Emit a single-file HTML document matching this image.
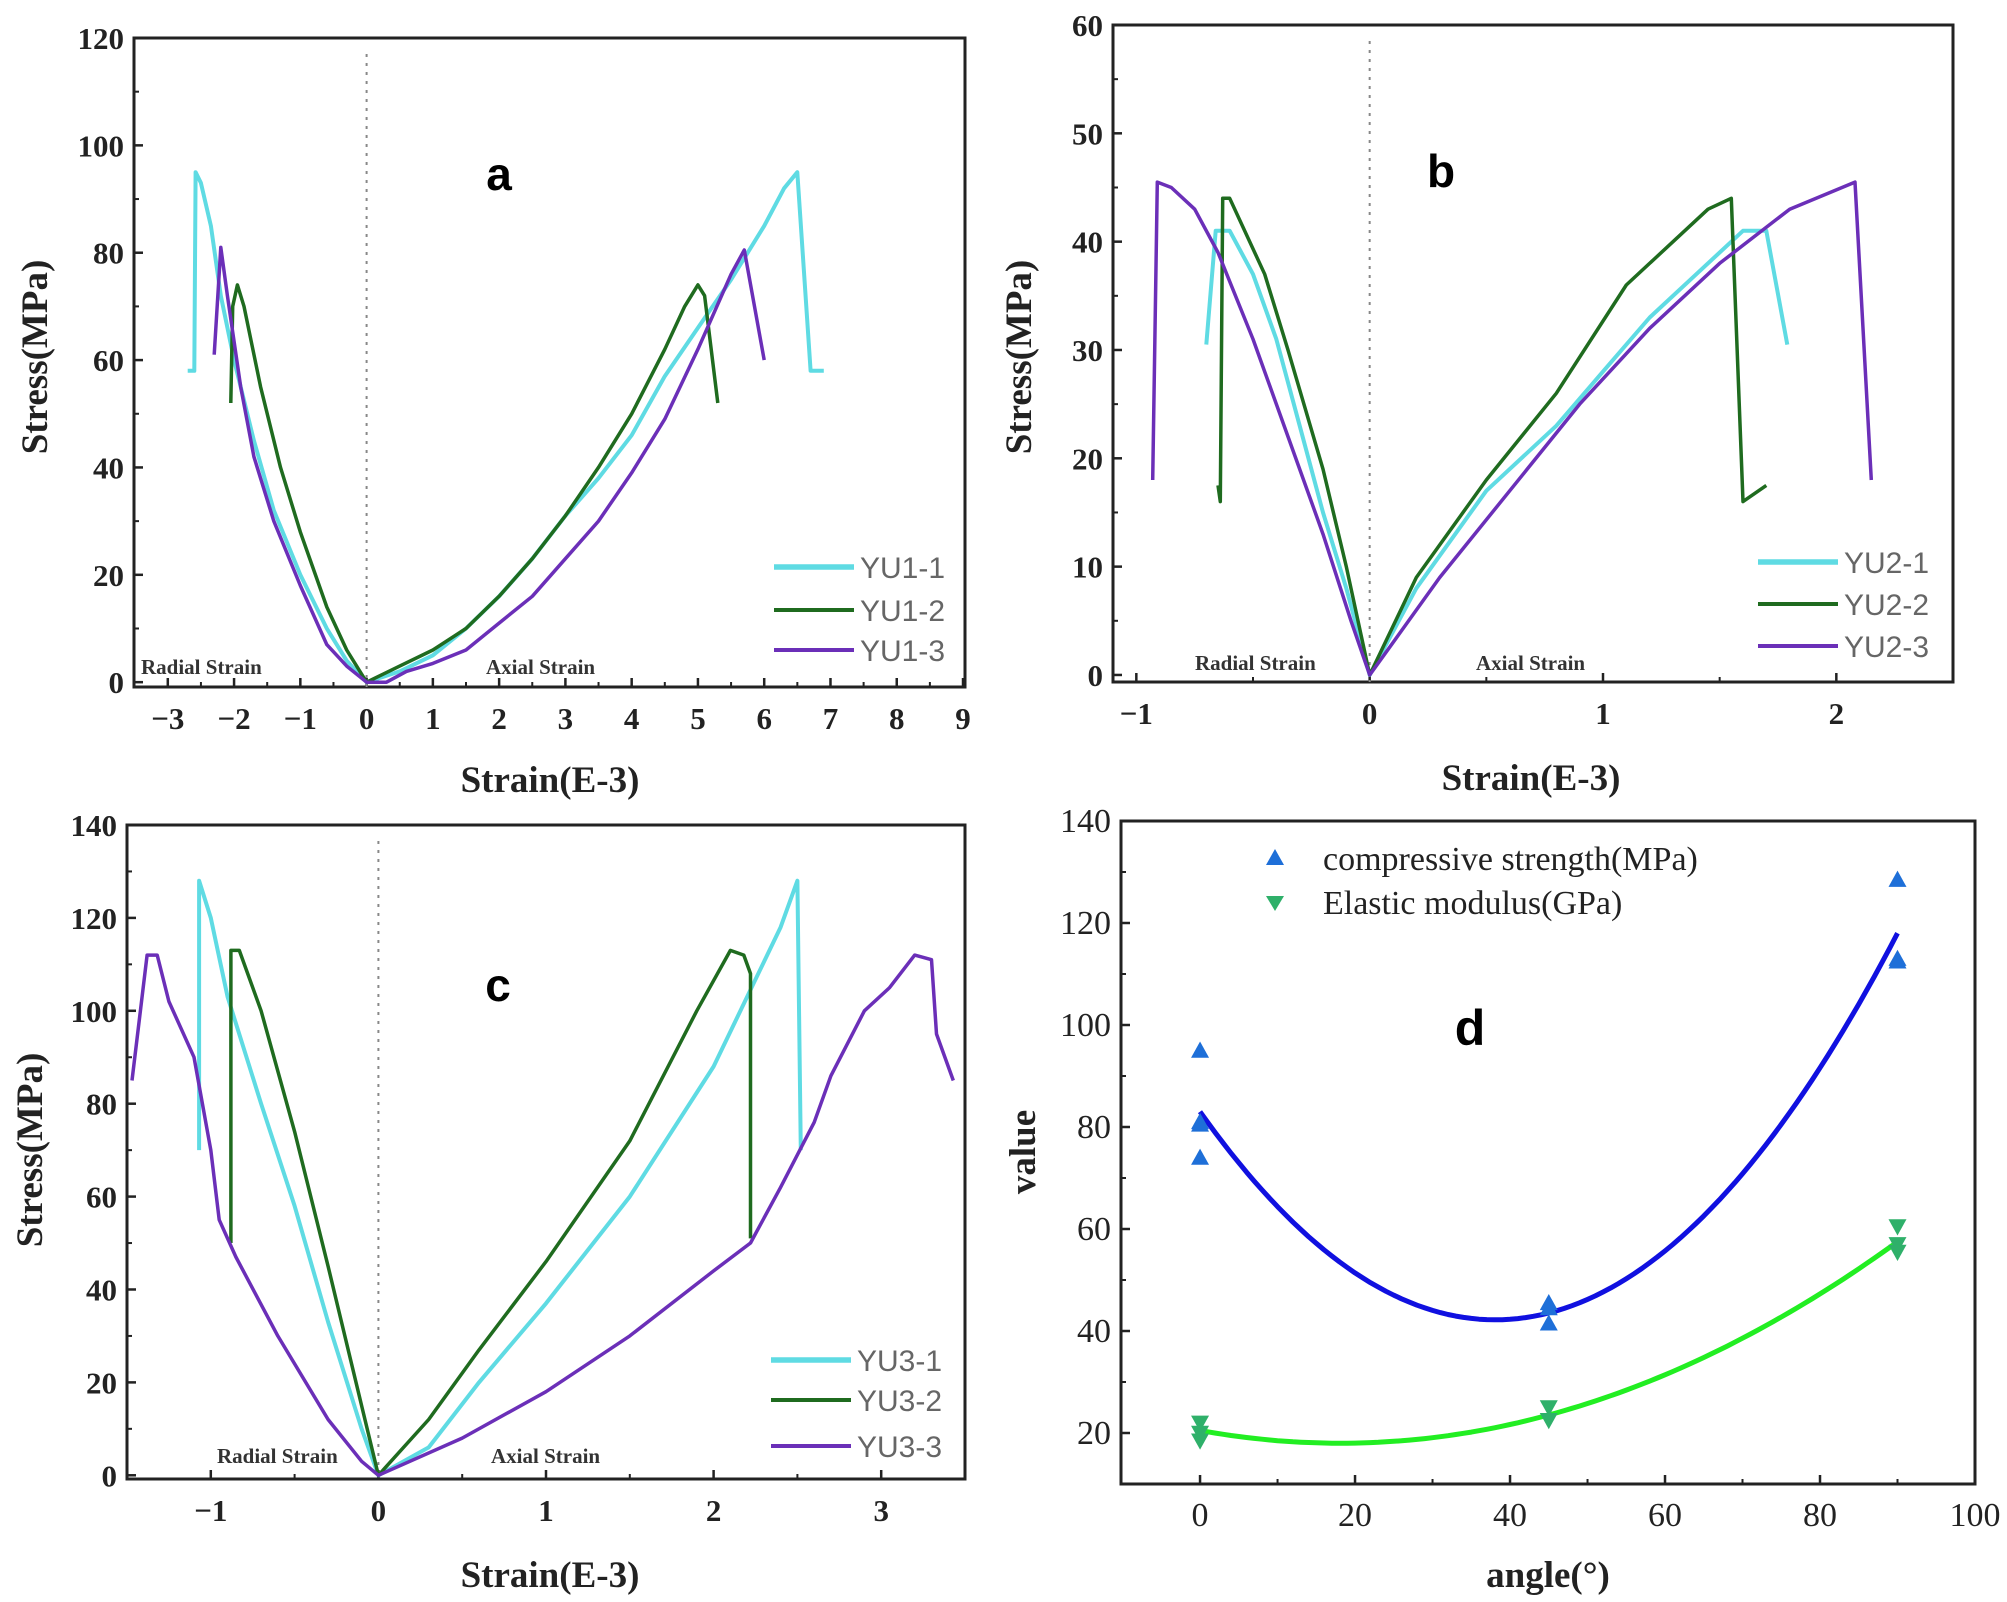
<!DOCTYPE html>
<html><head><meta charset="utf-8"><style>
html,body{margin:0;padding:0;background:#fff}
svg{display:block}
.tk{font-family:"Liberation Serif",serif;font-weight:bold;font-size:31px;fill:#222}
.tkd{font-family:"Liberation Serif",serif;font-size:34px;fill:#222}
.al{font-family:"Liberation Serif",serif;font-weight:bold;font-size:37px;fill:#222}
.lg{font-family:"Liberation Sans",sans-serif;font-size:30px;fill:#666}
.lt{font-family:"Liberation Sans",sans-serif;font-weight:bold;font-size:46px;fill:#000}
.rs{font-family:"Liberation Serif",serif;font-weight:bold;font-size:21px;fill:#333}
</style></head><body>
<svg id="s" width="2007" height="1602" viewBox="0 0 2007 1602" xmlns="http://www.w3.org/2000/svg"></svg>
<script>
const S=document.getElementById('s');let H='';
const C1='#5fdbe3',C2='#1f6b1f',C3='#6b2fb8';
function panel(p){
 const X=v=>p.x0+(v-p.xr[0])/(p.xr[1]-p.xr[0])*(p.x1-p.x0);
 const Y=v=>p.y1-(v-p.yr[0])/(p.yr[1]-p.yr[0])*(p.y1-p.y0);
 p.X=X;p.Y=Y;
 H+=`<rect x="${p.x0}" y="${p.y0}" width="${p.x1-p.x0}" height="${p.y1-p.y0}" fill="none" stroke="#222" stroke-width="3"/>`;
 for(const t of p.xt){H+=`<line x1="${X(t)}" x2="${X(t)}" y1="${p.y1}" y2="${p.y1-9}" stroke="#222" stroke-width="2.5"/>`;
  H+=`<text class="${p.tc}" x="${X(t)}" y="${p.y1+42}" text-anchor="middle">${t<0?'\u2212'+(-t):t}</text>`;}
 for(const t of (p.xm||[])){H+=`<line x1="${X(t)}" x2="${X(t)}" y1="${p.y1}" y2="${p.y1-5}" stroke="#222" stroke-width="2"/>`;}
 for(const t of p.yt){H+=`<line x1="${p.x0}" x2="${p.x0+9}" y1="${Y(t)}" y2="${Y(t)}" stroke="#222" stroke-width="2.5"/>`;
  H+=`<text class="${p.tc}" x="${p.x0-10}" y="${Y(t)+11}" text-anchor="end">${t}</text>`;}
 for(const t of (p.ym||[])){H+=`<line x1="${p.x0}" x2="${p.x0+5}" y1="${Y(t)}" y2="${Y(t)}" stroke="#222" stroke-width="2"/>`;}
 return p;
}
function line(p,pts,c,w){H+=`<polyline fill="none" stroke="${c}" stroke-width="${w||3.5}" stroke-linejoin="round" points="${pts.map(q=>p.X(q[0]).toFixed(1)+','+p.Y(q[1]).toFixed(1)).join(' ')}"/>`;}
function txt(x,y,cls,t,a,extra){H+=`<text class="${cls}" x="${x}" y="${y}" ${a?'text-anchor="'+a+'"':''} ${extra||''}>${t}</text>`;}
function legend(x,ys,names){const cs=[C1,C2,C3];for(let i=0;i<3;i++){H+=`<line x1="${x}" x2="${x+80}" y1="${ys[i]}" y2="${ys[i]}" stroke="${cs[i]}" stroke-width="${i==0?5.5:4}"/>`;txt(x+86,ys[i]+11,'lg',names[i]);}}
function zero(p){H+=`<line x1="${p.X(0)}" x2="${p.X(0)}" y1="${p.y0+16}" y2="${p.y1}" stroke="#888" stroke-width="2" stroke-dasharray="3,6"/>`;}
let a=panel({x0:134,x1:965,y0:38,y1:687,xr:[-3.51,9.03],yr:[-0.9,120],xt:[-3,-2,-1,0,1,2,3,4,5,6,7,8,9],xm:[-2.5,-1.5,-0.5,0.5,1.5,2.5,3.5,4.5,5.5,6.5,7.5,8.5],yt:[0,20,40,60,80,100,120],ym:[10,30,50,70,90,110],tc:'tk'});
zero(a);
line(a,[[-2.7,58],[-2.6,58],[-2.58,95],[-2.5,93],[-2.35,85],[-2.2,72],[-2,60],[-1.7,45],[-1.4,32],[-1,20],[-0.6,10],[-0.3,4],[0,0],[0.5,2],[1,5],[1.5,10],[2,16],[2.5,23],[3,31],[3.5,38],[4,46],[4.5,57],[5,66],[5.5,75],[6,85],[6.3,92],[6.5,95],[6.7,58],[6.9,58]],C1,4);
line(a,[[-2.05,52],[-2.02,70],[-1.95,74],[-1.85,70],[-1.6,55],[-1.3,40],[-1,28],[-0.6,14],[-0.3,6],[0,0],[0.5,3],[1,6],[1.5,10],[2,16],[2.5,23],[3,31],[3.5,40],[4,50],[4.5,62],[4.8,70],[5,74],[5.1,72],[5.3,52]],C2);
line(a,[[-2.3,61],[-2.2,81],[-2.1,72],[-1.9,55],[-1.7,42],[-1.4,30],[-1,18],[-0.6,7],[-0.3,3],[0,0],[0.3,0],[0.6,2],[1,3.5],[1.5,6],[2,11],[2.5,16],[3,23],[3.5,30],[4,39],[4.5,49],[5,62],[5.5,76],[5.7,80.5],[6,60]],C3);
legend(774,[567,610,650],['YU1-1','YU1-2','YU1-3']);
txt(141,674,'rs','Radial Strain');txt(486,674,'rs','Axial Strain');
txt(499,190,'lt','a','middle');
txt(550,792,'al','Strain(E-3)','middle');
txt(47,357,'al','Stress(MPa)','middle','transform="rotate(-90 47 357)"');
let b=panel({x0:1113,x1:1953,y0:25,y1:682,xr:[-1.1,2.5],yr:[-0.65,60],xt:[-1,0,1,2],xm:[-0.5,0.5,1.5],yt:[0,10,20,30,40,50,60],ym:[5,15,25,35,45,55],tc:'tk'});
zero(b);
line(b,[[-0.7,30.5],[-0.66,41],[-0.6,41],[-0.5,37],[-0.4,31],[-0.3,23],[-0.2,15],[-0.1,8],[0,0],[0.2,8],[0.5,17],[0.8,23],[1,28],[1.2,33],[1.4,37],[1.6,41],[1.7,41],[1.79,30.5]],C1,4);
line(b,[[-0.65,17.5],[-0.64,16],[-0.63,44],[-0.6,44],[-0.45,37],[-0.35,30],[-0.2,19],[-0.1,10],[0,0],[0.2,9],[0.5,18],[0.8,26],[1.1,36],[1.3,40],[1.45,43],[1.55,44],[1.6,16],[1.7,17.5]],C2);
line(b,[[-0.93,18],[-0.91,45.5],[-0.85,45],[-0.75,43],[-0.65,39],[-0.5,31],[-0.35,22],[-0.2,13],[-0.08,5],[0,0],[0.3,9],[0.6,17],[0.9,25],[1.2,32],[1.5,38],[1.8,43],[2.08,45.5],[2.15,18]],C3);
legend(1758,[562,604,646],['YU2-1','YU2-2','YU2-3']);
txt(1195,670,'rs','Radial Strain');txt(1476,670,'rs','Axial Strain');
txt(1441,187,'lt','b','middle');
txt(1531,790,'al','Strain(E-3)','middle');
txt(1031,357,'al','Stress(MPa)','middle','transform="rotate(-90 1031 357)"');
let c=panel({x0:127,x1:965,y0:825,y1:1479,xr:[-1.5,3.5],yr:[-0.8,140],xt:[-1,0,1,2,3],xm:[-0.5,0.5,1.5,2.5],yt:[0,20,40,60,80,100,120,140],ym:[10,30,50,70,90,110,130],tc:'tk'});
zero(c);
line(c,[[-1.07,70],[-1.07,128],[-1.0,120],[-0.9,103],[-0.7,80],[-0.5,58],[-0.3,33],[-0.1,10],[0,0],[0.3,6],[0.6,20],[1,37],[1.5,60],[2,88],[2.2,103],[2.4,118],[2.5,128],[2.52,70]],C1,4);
line(c,[[-0.88,50],[-0.88,113],[-0.83,113],[-0.7,100],[-0.5,74],[-0.3,45],[-0.1,15],[0,0],[0.3,12],[0.6,27],[1,46],[1.5,72],[1.9,100],[2.1,113],[2.18,112],[2.22,108],[2.22,51]],C2);
line(c,[[-1.47,85],[-1.42,100],[-1.38,112],[-1.32,112],[-1.25,102],[-1.1,90],[-1.05,80],[-1.0,70],[-0.95,55],[-0.85,47],[-0.6,30],[-0.3,12],[-0.1,3],[0,0],[0.5,8],[1,18],[1.5,30],[2,44],[2.22,50],[2.4,62],[2.6,76],[2.7,86],[2.9,100],[3.05,105],[3.2,112],[3.3,111],[3.33,95],[3.43,85]],C3);
legend(771,[1360,1400,1446],['YU3-1','YU3-2','YU3-3']);
txt(217,1463,'rs','Radial Strain');txt(491,1463,'rs','Axial Strain');
txt(498,1001,'lt','c','middle');
txt(550,1587,'al','Strain(E-3)','middle');
txt(42,1150,'al','Stress(MPa)','middle','transform="rotate(-90 42 1150)"');
let d=panel({x0:1121,x1:1975,y0:821,y1:1484,xr:[-10.2,100],yr:[10,140],xt:[0,20,40,60,80,100],xm:[10,30,50,70,90],yt:[20,40,60,80,100,120,140],ym:[30,50,70,90,110,130],tc:'tkd'});
function quad(P){const f=x=>{let s=0;for(let i=0;i<3;i++){let t=P[i][1];for(let j=0;j<3;j++)if(j!=i)t*=(x-P[j][0])/(P[i][0]-P[j][0]);s+=t;}return s;};const r=[];for(let x=0;x<=90;x+=1)r.push([x,f(x)]);return r;}
line(d,quad([[0,83],[38,42.2],[90,118]]),'#1010e0',5);
line(d,quad([[0,20.5],[18,18],[90,57.5]]),'#22ee22',5);
function tri(x,y,up,col){const X=d.X(x),Y=d.Y(y),s=9;H+=up?`<polygon points="${X},${Y-s} ${X-s},${Y+s*0.8} ${X+s},${Y+s*0.8}" fill="${col}"/>`:`<polygon points="${X},${Y+s} ${X-s},${Y-s*0.8} ${X+s},${Y-s*0.8}" fill="${col}"/>`;}
[[0,95],[0,81],[0,80.5],[0,74],[45,45.5],[45,44.5],[45,41.5],[90,128.5],[90,113],[90,112.5]].forEach(q=>tri(q[0],q[1],1,'#1e6fd8'));
[[0,22],[0,20],[0,18.5],[45,25],[45,22.5],[90,60.5],[90,57],[90,55.5]].forEach(q=>tri(q[0],q[1],0,'#2fb06a'));
H+=`<polygon points="1275,849 1266,865 1284,865" fill="#1e6fd8"/><polygon points="1275,911 1266,896 1284,896" fill="#2fb06a"/>`;
txt(1323,870,'tkd','compressive strength(MPa)');txt(1323,914,'tkd','Elastic modulus(GPa)');
txt(1470,1045,'lt','d','middle','style="font-size:50px"');
txt(1548,1587,'al','angle(°)','middle');
txt(1035,1152,'al','value','middle','transform="rotate(-90 1035 1152)"');
S.innerHTML=H;
</script>
</body></html>
